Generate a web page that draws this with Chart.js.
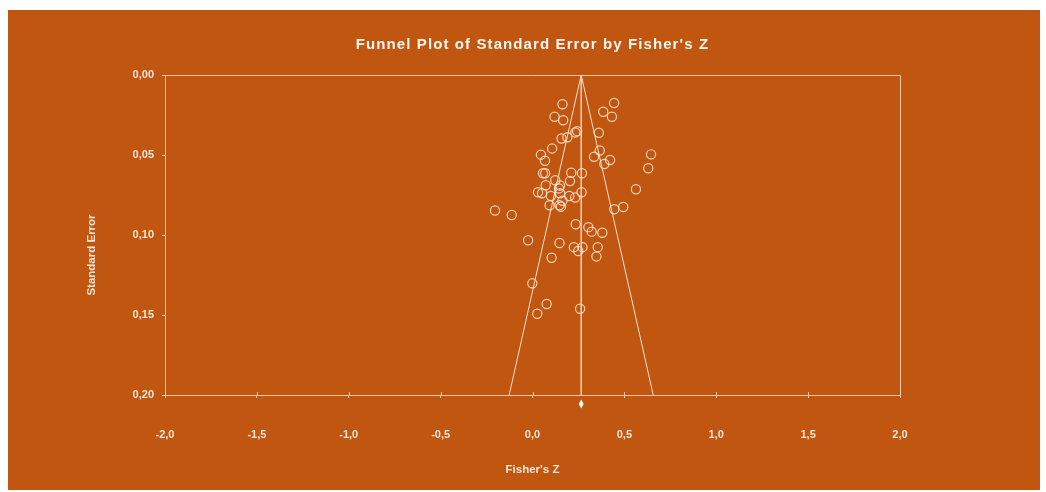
<!DOCTYPE html>
<html>
<head>
<meta charset="utf-8">
<title>Funnel Plot of Standard Error by Fisher's Z</title>
<script src="https://cdn.jsdelivr.net/npm/chart.js@4.4.1/dist/chart.umd.min.js"></script>
<style>
  html, body { margin: 0; padding: 0; background: #ffffff; }
  canvas { display: block; }
</style>
</head>
<body>
<canvas id="funnel" width="1046" height="492"></canvas>
<script>
// Study effect sizes (Fisher's Z) and their standard errors
const fisherZ = [
  0.163, 0.444, 0.120, 0.167, 0.385, 0.432, 0.361, 0.243, 0.233, 0.190,
  0.158, 0.107, 0.366, 0.335, 0.422, 0.391, 0.645, 0.630, 0.046, 0.068,
  0.057, 0.069, 0.211, 0.269, 0.124, 0.204, 0.072, 0.150, 0.144, 0.563,
  0.030, 0.052, 0.150, 0.100, 0.200, 0.232, 0.267, 0.163, 0.093, 0.147,
  0.155, 0.445, 0.494, -0.204, -0.113, 0.235, 0.304, 0.322, 0.380, -0.024,
  0.147, 0.225, 0.272, 0.249, 0.355, 0.348, 0.104, -0.001, 0.077, 0.026,
  0.259
];
const standardError = [
  0.0183, 0.0175, 0.0261, 0.0283, 0.0230, 0.0261, 0.0361, 0.0351, 0.0359, 0.0389,
  0.0397, 0.0459, 0.0472, 0.0511, 0.0531, 0.0556, 0.0496, 0.0583, 0.0498, 0.0536,
  0.0614, 0.0614, 0.0611, 0.0614, 0.0658, 0.0663, 0.0689, 0.0691, 0.0709, 0.0714,
  0.0733, 0.0739, 0.0739, 0.0756, 0.0756, 0.0766, 0.0733, 0.0786, 0.0814, 0.0814,
  0.0823, 0.0839, 0.0825, 0.0847, 0.0875, 0.0933, 0.0951, 0.0979, 0.0986, 0.1033,
  0.1050, 0.1076, 0.1076, 0.1100, 0.1076, 0.1134, 0.1142, 0.1302, 0.1431, 0.1492,
  0.1461
];

// Pooled estimate and funnel depth
const summaryZ = 0.265;
const seLimit = 0.20;
const zCrit = 1.96;

// Axis tick labels (decimal comma)
const xTickLabels = ['-2,0', '-1,5', '-1,0', '-0,5', '0,0', '0,5', '1,0', '1,5', '2,0'];
const yTickLabels = ['0,00', '0,05', '0,10', '0,15', '0,20'];
const xStep = 0.5;
const yStep = 0.05;

const TITLE = "Funnel Plot of Standard Error by Fisher's Z";
const X_TITLE = "Fisher's Z";
const Y_TITLE = 'Standard Error';

const PANEL = '#C15610';
const FRAME = 'rgba(255,226,204,0.80)';
const TEXT = '#F6E6DA';
const FONT = '"Liberation Sans", Arial, sans-serif';

const studyPoints = fisherZ.map((z, i) => ({ x: z, y: standardError[i] }));

// Orange panel behind everything
const panelPlugin = {
  id: 'panel',
  beforeDraw(chart) {
    const ctx = chart.ctx;
    ctx.save();
    ctx.fillStyle = PANEL;
    ctx.fillRect(8, 10, 1032, 480);
    ctx.restore();
  }
};

// Top and right edges of the plot frame, plus tick marks crossing the base line
const framePlugin = {
  id: 'frame',
  beforeDatasetsDraw(chart) {
    const { ctx, chartArea: a } = chart;
    ctx.save();
    ctx.strokeStyle = FRAME;
    ctx.lineWidth = 1;
    ctx.beginPath();
    ctx.moveTo(a.left, a.top + 0.5);
    ctx.lineTo(a.right + 0.5, a.top + 0.5);
    ctx.lineTo(a.right + 0.5, a.bottom);
    chart.scales.x.ticks.forEach(t => {
      const x = Math.round(chart.scales.x.getPixelForValue(t.value)) + 0.5;
      ctx.moveTo(x, a.bottom - 3);
      ctx.lineTo(x, a.bottom);
    });
    ctx.stroke();
    ctx.restore();
  }
};

// Title and axis captions
const captionPlugin = {
  id: 'captions',
  afterDraw(chart) {
    const { ctx, chartArea: a } = chart;
    const cx = (a.left + a.right) / 2;
    ctx.save();
    ctx.textAlign = 'center';
    ctx.textBaseline = 'middle';

    ctx.fillStyle = '#FFF6EF';
    ctx.font = 'bold 15px ' + FONT;
    if ('letterSpacing' in ctx) ctx.letterSpacing = '1.1px';
    ctx.fillText(TITLE, cx, a.top - 30);
    if ('letterSpacing' in ctx) ctx.letterSpacing = '0px';

    ctx.fillStyle = TEXT;
    ctx.font = 'bold 11.5px ' + FONT;
    ctx.fillText(X_TITLE, cx, a.bottom + 75);

    ctx.translate(a.left - 73, (a.top + a.bottom) / 2 + 20);
    ctx.rotate(-Math.PI / 2);
    ctx.fillText(Y_TITLE, 0, 0);
    ctx.restore();
  }
};

// Pooled-estimate diamond under the axis
const summaryPlugin = {
  id: 'summaryDiamond',
  afterDatasetsDraw(chart) {
    const { ctx, chartArea: a } = chart;
    const x = chart.scales.x.getPixelForValue(summaryZ);
    const y = a.bottom + 9;
    ctx.save();
    ctx.fillStyle = '#FFFFFF';
    ctx.beginPath();
    ctx.moveTo(x, y - 4.5);
    ctx.lineTo(x + 2.5, y);
    ctx.lineTo(x, y + 4.5);
    ctx.lineTo(x - 2.5, y);
    ctx.closePath();
    ctx.fill();
    ctx.restore();
  }
};

new Chart(document.getElementById('funnel'), {
  type: 'scatter',
  data: {
    datasets: [
      {
        label: 'Pooled estimate',
        data: [{ x: summaryZ, y: 0 }, { x: summaryZ, y: seLimit }],
        showLine: true,
        borderColor: 'rgba(250,214,188,0.9)',
        borderWidth: 1.6,
        pointRadius: 0
      },
      {
        label: 'Lower limit',
        data: [{ x: summaryZ, y: 0 }, { x: summaryZ - zCrit * seLimit, y: seLimit }],
        showLine: true,
        borderColor: 'rgba(255,240,230,0.9)',
        borderWidth: 1,
        pointRadius: 0
      },
      {
        label: 'Upper limit',
        data: [{ x: summaryZ, y: 0 }, { x: summaryZ + zCrit * seLimit, y: seLimit }],
        showLine: true,
        borderColor: 'rgba(255,240,230,0.9)',
        borderWidth: 1,
        pointRadius: 0
      },
      {
        label: 'Studies',
        data: studyPoints,
        pointStyle: 'circle',
        pointRadius: 4.6,
        pointBorderWidth: 1.2,
        pointBackgroundColor: 'rgba(0,0,0,0)',
        pointBorderColor: 'rgba(255,228,206,0.88)'
      }
    ]
  },
  options: {
    responsive: false,
    animation: false,
    events: [],
    layout: { padding: { top: 75, right: 146, bottom: 0, left: 0 } },
    plugins: {
      legend: { display: false },
      title: { display: false },
      tooltip: { enabled: false }
    },
    scales: {
      x: {
        type: 'linear',
        position: 'bottom',
        min: -2,
        max: 2,
        ticks: {
          stepSize: xStep,
          padding: 30,
          color: TEXT,
          font: { family: FONT, size: 11, weight: 'bold' },
          maxRotation: 0,
          callback: v => xTickLabels[Math.round((v + 2) / xStep)]
        },
        grid: { drawOnChartArea: false, drawTicks: true, tickLength: 3, color: FRAME },
        border: { display: true, color: FRAME, width: 1 },
        afterFit(scale) { scale.height = 97; }
      },
      y: {
        type: 'linear',
        position: 'left',
        reverse: true,
        min: 0,
        max: seLimit,
        ticks: {
          stepSize: yStep,
          padding: 8,
          color: TEXT,
          font: { family: FONT, size: 11, weight: 'bold' },
          callback: v => yTickLabels[Math.round(v / yStep)]
        },
        grid: { drawOnChartArea: false, drawTicks: true, tickLength: 3, color: FRAME },
        border: { display: true, color: FRAME, width: 1 },
        afterFit(scale) { scale.width = 165; }
      }
    }
  },
  plugins: [panelPlugin, framePlugin, summaryPlugin, captionPlugin]
});
</script>
</body>
</html>
